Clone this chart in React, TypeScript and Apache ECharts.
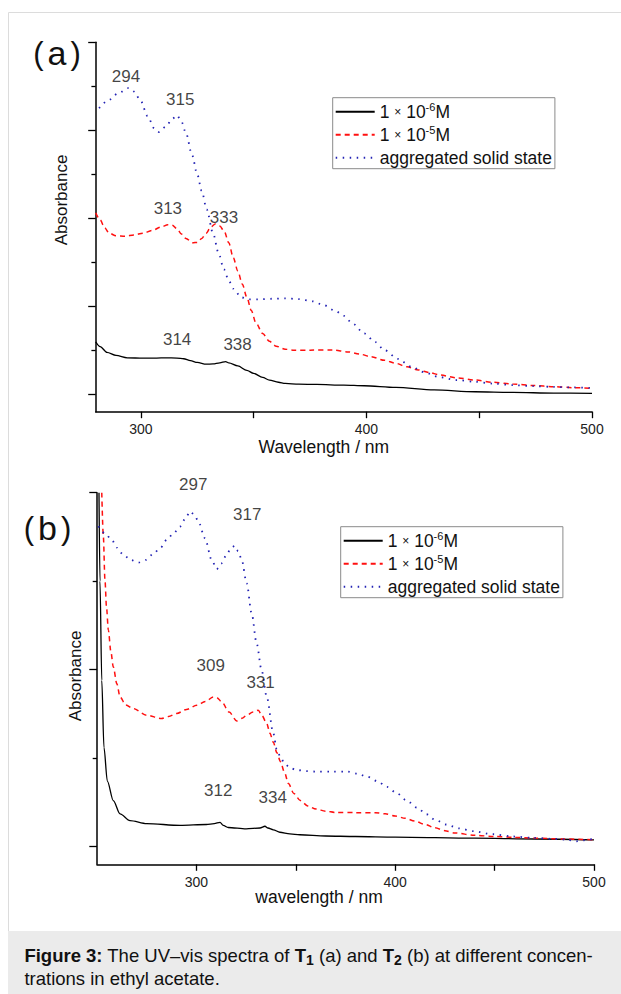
import React, { useEffect, useRef } from 'react';
import * as echarts from 'echarts';

const FONT = '"Liberation Sans", Arial, Helvetica, sans-serif';

// ---- legend / series names ----
const seriesNames = ['1 × 10-6M', '1 × 10-5M', 'aggregated solid state'];

// ---- axis ticks ----
const xTicksA = [300, 350, 400, 450, 500];
const xLabelsA = [300, 400, 500];
const yMajorA = [0, 1, 2, 3, 4];
const yMinorA = [0.5, 1.5, 2.5, 3.5];
const xTicksB = [300, 350, 400, 450, 500];
const xLabelsB = [300, 400, 500];
const yMajorB = [0, 1, 2];
const yMinorB = [0.5, 1.5];

// ---- panel (a): T1 spectra [wavelength nm, absorbance] ----
const a_1e6 = [
  [280, 0.595], [282, 0.54], [285, 0.474], [289, 0.44], [294, 0.413], [301, 0.408], [307, 0.41],
  [311, 0.413], [316, 0.41], [319, 0.402], [322, 0.38], [325, 0.36], [329, 0.34], [332, 0.343],
  [335, 0.355], [337.6, 0.37], [339, 0.355], [343, 0.32], [347, 0.27], [350, 0.235], [354, 0.19],
  [357, 0.16], [361, 0.135], [364, 0.122], [370, 0.113], [378, 0.11], [390, 0.102], [399, 0.095],
  [413, 0.076], [430, 0.048], [448, 0.027], [465, 0.019], [483, 0.012], [500, 0.008],
];
const a_1e5 = [
  [280, 2.06], [282, 1.98], [284, 1.89], [286, 1.83], [289, 1.8], [293, 1.795], [297, 1.81],
  [301, 1.83], [305, 1.86], [309, 1.9], [312, 1.925], [314, 1.92], [316, 1.88], [318, 1.82],
  [320, 1.77], [323, 1.72], [325, 1.725], [327, 1.77], [329, 1.83], [331, 1.9], [333, 1.935],
  [335, 1.91], [337, 1.85], [339, 1.72], [341, 1.55], [343, 1.4], [345, 1.25], [347, 1.1],
  [349, 0.95], [351, 0.81], [354, 0.69], [357, 0.6], [360, 0.545], [364, 0.51], [368, 0.5],
  [375, 0.5], [385, 0.502], [392, 0.48], [397, 0.455], [402, 0.425], [408, 0.385], [413, 0.35],
  [418, 0.31], [423, 0.275], [428, 0.245], [432, 0.22], [440, 0.185], [448, 0.16], [456, 0.135],
  [465, 0.115], [474, 0.098], [483, 0.085], [492, 0.073], [500, 0.064],
];
const a_solid = [
  [281.5, 3.25], [285, 3.33], [290, 3.42], [294.5, 3.48], [297, 3.44], [300, 3.33], [303, 3.16],
  [306, 3.02], [308, 2.98], [311, 3.04], [314, 3.13], [316, 3.17], [318, 3.1], [320, 2.97],
  [322.7, 2.72], [325, 2.5], [327, 2.31], [329.2, 2.1], [332, 1.83], [334.5, 1.6], [336.8, 1.42],
  [339, 1.29], [341, 1.2], [344.5, 1.1], [348, 1.077], [352, 1.078], [358, 1.084], [364, 1.089],
  [370, 1.08], [376, 1.055], [381, 1.013], [386, 0.95], [390, 0.89], [394, 0.8], [399, 0.69],
  [404, 0.59], [408, 0.5], [414, 0.4], [420, 0.31], [426, 0.245], [432, 0.195], [440, 0.16],
  [448, 0.14], [456, 0.12], [465, 0.102], [474, 0.09], [483, 0.082], [492, 0.076], [500, 0.07],
];
const peakTextA = ['294', '315', '313', '333', '314', '338'];
const peakXA = [293.4, 317.5, 312, 336.9, 316.1, 342.9];
const peakYA = [3.61, 3.345, 2.113, 2.01, 0.622, 0.565];

// ---- panel (b): T2 spectra ----
const b_1e6 = [
  [251.0, 2.0], [251.5, 1.5], [252.4, 0.94], [253.5, 0.56], [255.2, 0.37], [258.2, 0.26],
  [261.6, 0.185], [266.6, 0.147], [275, 0.13], [291.8, 0.12], [305, 0.125], [309, 0.13],
  [311.9, 0.137], [313.5, 0.12], [316, 0.108], [325, 0.1], [332, 0.105], [334.5, 0.115],
  [336, 0.105], [338.7, 0.095], [342, 0.081], [347, 0.072], [352, 0.067], [365, 0.06],
  [380, 0.057], [400, 0.054], [440, 0.048], [470, 0.043], [500, 0.038],
];
const b_1e5 = [
  [252.4, 2.0], [253.2, 1.75], [254, 1.507], [254.8, 1.35], [255.7, 1.224], [257, 1.1],
  [258.2, 1.016], [260, 0.92], [261.6, 0.846], [264.5, 0.8], [268.3, 0.78], [275, 0.742],
  [282.5, 0.724], [286, 0.735], [290.1, 0.752], [295, 0.775], [300.2, 0.799], [304.5, 0.82],
  [308.5, 0.846], [310.5, 0.84], [312.7, 0.818], [316.5, 0.76], [320.3, 0.71], [323, 0.725],
  [325.3, 0.742], [328.5, 0.76], [331.1, 0.771], [333, 0.74], [335.4, 0.695], [337, 0.64],
  [338.7, 0.59], [340.5, 0.53], [342.3, 0.48], [344.3, 0.42], [346.3, 0.356], [349, 0.3],
  [352.3, 0.26], [356, 0.23], [360.2, 0.212], [365, 0.2], [370, 0.193], [380, 0.192],
  [390, 0.192], [395, 0.185], [400, 0.173], [405, 0.16], [410, 0.144], [415, 0.125], [420, 0.106],
  [425, 0.09], [430, 0.077], [440, 0.064], [450, 0.057], [460, 0.052], [470, 0.048], [485, 0.043],
  [500, 0.038],
];
const b_solid = [
  [250.7, 1.81], [254, 1.77], [257.4, 1.734], [260, 1.69], [263.2, 1.65], [267, 1.62],
  [270.8, 1.605], [274.5, 1.62], [278.3, 1.654], [282, 1.69], [285.1, 1.734], [288.5, 1.77],
  [291.8, 1.809], [294.5, 1.855], [296.8, 1.894], [299, 1.875], [301, 1.837], [304.3, 1.743],
  [307.7, 1.62], [310.2, 1.568], [312.5, 1.6], [315.2, 1.649], [317.5, 1.69], [319.4, 1.7],
  [321, 1.67], [322.8, 1.62], [325.3, 1.488], [327.8, 1.318], [330.3, 1.148], [332.8, 0.997],
  [335.4, 0.846], [338.7, 0.64], [340.4, 0.55], [342.5, 0.5], [344.3, 0.472], [347, 0.445],
  [350.3, 0.433], [355, 0.427], [360, 0.424], [368, 0.424], [376, 0.424], [381, 0.412],
  [385.9, 0.395], [391, 0.37], [395.9, 0.337], [401, 0.3], [405.8, 0.26], [411, 0.22],
  [415.7, 0.183], [420, 0.152], [425.6, 0.125], [432, 0.103], [439.5, 0.087], [449, 0.07],
  [459.3, 0.057], [469, 0.05], [479.1, 0.044], [486, 0.04], [491, 0.03], [495, 0.036], [500, 0.044],
];
const peakTextB = ['297', '317', '309', '331', '312', '334'];
const peakXB = [298.4, 325.6, 307.2, 332.3, 311, 338.4];
const peakYB = [2.048, 1.876, 1.021, 0.925, 0.317, 0.275];

const captionLine1 = ['Figure 3:', ' The UV–vis spectra of ', 'T', '1', ' (a) and ', 'T', '2', ' (b) at different concen-'];
const captionLine2 = 'trations in ethyl acetate.';

// ---- styles ----
const styles = [
  { color: '#000000', width: 1.3, type: 'solid' as any },
  { color: '#ff1010', width: 1.5, type: [5, 4] as any },
  { color: '#2323b4', width: 1.8, type: [1.5, 5.5] as any },
];

function lineSeries(name: string, data: number[][], xi: number, yi: number, st: any) {
  return {
    type: 'line', name, data, xAxisIndex: xi, yAxisIndex: yi, symbol: 'none', showSymbol: false,
    smooth: 0.3, smoothMonotone: 'x', silent: true, z: 3,
    lineStyle: { color: st.color, width: st.width, type: st.type, cap: 'butt' },
    itemStyle: { color: st.color },
    emphasis: { disabled: true },
  };
}

function peakSeries(texts: string[], xs: number[], ys: number[], xi: number, yi: number) {
  return {
    type: 'scatter', xAxisIndex: xi, yAxisIndex: yi, silent: true, clip: false, z: 4,
    symbolSize: 1, itemStyle: { color: 'rgba(0,0,0,0)' },
    data: texts.map((t, i) => ({ name: t, value: [xs[i], ys[i]] })),
    label: {
      show: true, position: 'inside', formatter: '{b}', fontSize: 17, color: '#111',
      fontFamily: FONT, align: 'center', verticalAlign: 'middle',
    },
    emphasis: { disabled: true },
  };
}

function xAxisDef(gridIndex: number, min: number, max: number, name: string, nameGap: number,
  padRight: number, ticks: number[], labels: number[]) {
  return {
    type: 'value', gridIndex, min, max, name, nameLocation: 'middle', nameGap,
    nameMoveOverlap: false,
    nameTextStyle: { fontSize: 17.5, color: '#111', fontFamily: FONT, padding: [0, padRight, 0, 0] },
    axisLine: { show: true, onZero: false, lineStyle: { color: '#000', width: 1.5 } },
    axisTick: { show: true, length: 6.5, customValues: ticks, lineStyle: { color: '#000', width: 1.3 } },
    axisLabel: { show: true, customValues: labels, margin: 10.5, fontSize: 14, color: '#222', fontFamily: FONT },
    splitLine: { show: false },
  };
}

function yAxisDef(gridIndex: number, min: number, max: number, ticks: number[], len: number,
  main: boolean, nameGap = 0, padLeft = 0) {
  return {
    type: 'value', gridIndex, min, max, position: 'left',
    name: main ? 'Absorbance' : '', nameLocation: 'middle', nameRotate: 90, nameGap,
    nameMoveOverlap: false,
    nameTextStyle: { fontSize: 17, color: '#111', fontFamily: FONT, padding: [0, 0, 0, padLeft] },
    axisLine: { show: main, onZero: false, lineStyle: { color: '#000', width: 1.5 } },
    axisTick: { show: true, length: len, customValues: ticks, lineStyle: { color: '#000', width: 1.3 } },
    axisLabel: { show: false },
    splitLine: { show: false },
  };
}

const legendRich = {
  n: { fontSize: 17.5, lineHeight: 20, color: '#111', fontFamily: FONT },
  x: { fontSize: 12, lineHeight: 20, color: '#111', fontFamily: FONT },
  s: { fontSize: 11, lineHeight: 11, verticalAlign: 'top', color: '#111', fontFamily: FONT },
};
function legendFormatter(name: string) {
  const m = name.match(/^1 × 10(-\d)M$/);
  if (m) return `{n|1 }{x|×}{n| 10}{s|${m[1]}}{n|M}`;
  return `{n|${name}}`;
}
function legendDef(left: number, top: number) {
  return {
    orient: 'vertical', left, top, itemWidth: 39, itemHeight: 14, itemGap: 3,
    padding: [4, 3, 1, 2], borderColor: '#8a8a8a', borderWidth: 1, borderRadius: 0,
    backgroundColor: '#fff', selectedMode: false,
    data: seriesNames.map((n) => ({ name: n, itemStyle: { opacity: 0 } })),
    itemStyle: { opacity: 0, borderWidth: 0 },
    formatter: legendFormatter,
    textStyle: { fontSize: 17.5, lineHeight: 20, color: '#111', fontFamily: FONT, rich: legendRich },
  };
}

function panelLabel(letter: string, cx: number, cy: number) {
  return {
    type: 'text', x: cx, y: cy, silent: true,
    style: {
      text: `{p|(}{l|${letter}}{p|)}`, align: 'center', verticalAlign: 'middle',
      rich: {
        p: { fontSize: 31, fontFamily: FONT, fill: '#111' },
        l: { fontSize: 34, fontFamily: FONT, fill: '#111', padding: [0, 4, 0, 4] },
      },
    },
  };
}

const captionRich = {
  b: { fontSize: 18.5, fontWeight: 'bold', lineHeight: 23.7, fontFamily: FONT, fill: '#111' },
  n: { fontSize: 18.5, lineHeight: 23.7, fontFamily: FONT, fill: '#111' },
  bs: { fontSize: 14, fontWeight: 'bold', lineHeight: 14, verticalAlign: 'bottom', fontFamily: FONT, fill: '#111' },
};
const captionText =
  `{b|${captionLine1[0]}}{n|${captionLine1[1]}}{b|${captionLine1[2]}}{bs|${captionLine1[3]}}` +
  `{n|${captionLine1[4]}}{b|${captionLine1[5]}}{bs|${captionLine1[6]}}{n|${captionLine1[7]}}` +
  `\n{n|${captionLine2}}`;

const option: any = {
  animation: false,
  backgroundColor: '#ffffff',
  textStyle: { fontFamily: FONT },
  grid: [
    { left: 95.7, top: 42.3, width: 496.3, height: 369.4, containLabel: false, outerBoundsMode: 'none' },
    { left: 97, top: 492.7, width: 497, height: 371.6, containLabel: false, outerBoundsMode: 'none' },
  ],
  xAxis: [
    xAxisDef(0, 280, 500, 'Wavelength / nm', 26.3, 40, xTicksA, xLabelsA),
    xAxisDef(1, 250, 500, 'wavelength / nm', 24, 53, xTicksB, xLabelsB),
  ],
  yAxis: [
    yAxisDef(0, -0.2, 4, yMajorA, 7.5, true, 25.5, 54),
    yAxisDef(0, -0.2, 4, yMinorA, 4.3, false),
    yAxisDef(1, -0.1, 2, yMajorB, 7.7, true, 12.8, 5),
    yAxisDef(1, -0.1, 2, yMinorB, 4.3, false),
  ],
  legend: [legendDef(332.7, 97.7), legendDef(340.7, 526.7)],
  series: [
    lineSeries(seriesNames[0], a_1e6, 0, 0, styles[0]),
    lineSeries(seriesNames[1], a_1e5, 0, 0, styles[1]),
    lineSeries(seriesNames[2], a_solid, 0, 0, styles[2]),
    lineSeries(seriesNames[0], b_1e6, 1, 2, styles[0]),
    lineSeries(seriesNames[1], b_1e5, 1, 2, styles[1]),
    lineSeries(seriesNames[2], b_solid, 1, 2, styles[2]),
    peakSeries(peakTextA, peakXA, peakYA, 0, 0),
    peakSeries(peakTextB, peakXB, peakYB, 1, 2),
  ],
  graphic: [
    {
      type: 'rect', silent: true, z: -10,
      shape: { x: 8.5, y: 12.5, width: 700, height: 1100 },
      style: { fill: 'none', stroke: '#dcdcdc', lineWidth: 1 },
    },
    {
      type: 'rect', silent: true, z: -9,
      shape: { x: 8, y: 931, width: 613, height: 63 },
      style: { fill: '#ebebeb' },
    },
    {
      type: 'text', silent: true, x: 24.4, y: 943.2,
      style: { text: captionText, rich: captionRich, align: 'left', verticalAlign: 'top' },
    },
    panelLabel('a', 57, 53),
    panelLabel('b', 47.5, 528),
  ],
};

export default function App() {
  const ref = useRef<HTMLDivElement>(null);
  useEffect(() => {
    if (!ref.current) return;
    const chart = echarts.init(ref.current, null, { renderer: 'svg', width: 621, height: 994 });
    chart.setOption(option);
    return () => chart.dispose();
  }, []);
  return (
    <div
      ref={ref}
      style={{ position: 'fixed', left: 0, top: 0, width: 621, height: 994, background: '#fff' }}
    />
  );
}
